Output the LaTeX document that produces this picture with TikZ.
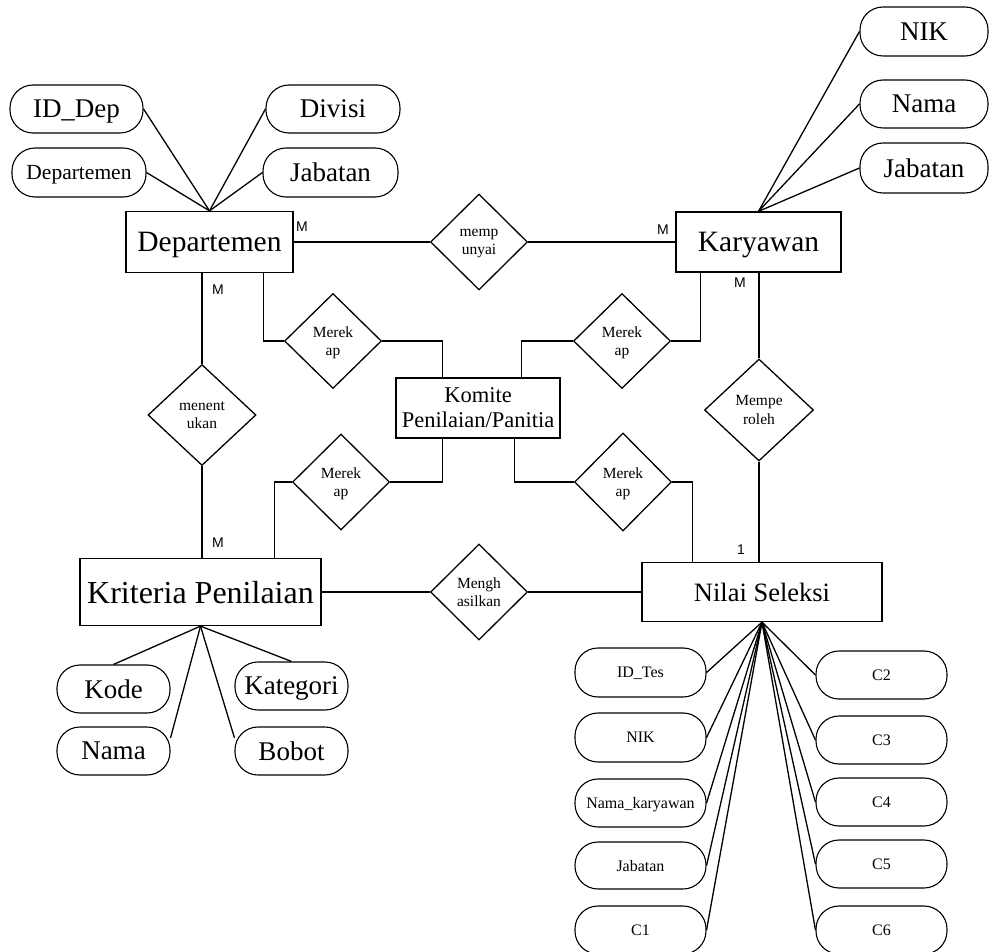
\documentclass[tikz,border=0pt]{standalone}
\usepackage{fontspec}
\setmainfont{Liberation Serif}
\newfontfamily\cardfont{Liberation Sans}
\usetikzlibrary{shapes.geometric, positioning, calc}
\tikzset{
  entity/.style = {rectangle, draw=black, line width=1.3pt, inner sep=0pt,
    align=center, text depth=0pt},
  attr/.style = {rectangle, rounded corners=23pt, draw=black, line width=1.1pt,
    inner sep=0pt, minimum width=133pt, minimum height=48pt, text depth=0pt,
    font=\fontsize{27}{30}\selectfont},
  attrSmall/.style = {attr, minimum width=131pt, font=\fontsize{16}{19}\selectfont},
  rel/.style = {diamond, aspect=1, draw=black, line width=1.3pt, inner sep=0pt,
    minimum width=97pt, minimum height=96pt, align=center, text depth=0pt,
    font=\fontsize{15.5}{18.5}\selectfont},
  ln/.style = {line width=1.3pt},
  card/.style = {inner sep=0pt, font=\cardfont\fontsize{14}{16}\selectfont},
}

\begin{document}
\begin{tikzpicture}[x=1pt, y=-1pt]
\useasboundingbox (0,0) rectangle (989,952);

\node[entity, minimum width=167pt, minimum height=61pt, font=\fontsize{29.5}{33}\selectfont] (dep) at (209.5,242) {Departemen};
\node[entity, minimum width=165pt, minimum height=60pt, font=\fontsize{29.5}{33}\selectfont] (kar) at (758.5,242) {Karyawan};
\node[entity, minimum width=164pt, minimum height=60pt, font=\fontsize{22.5}{25}\selectfont] (kom) at (478,408) {Komite\\Penilaian/Panitia};
\node[entity, minimum width=241pt, minimum height=67pt, font=\fontsize{32}{36}\selectfont] (kri) at (200.5,592) {Kriteria Penilaian};
\node[entity, minimum width=240pt, minimum height=59pt, font=\fontsize{26.5}{30}\selectfont] (nil) at (762,592) {Nilai Seleksi};

\node[attr] (dep1) at (76.5,109) {ID\_Dep};
\node[attr, minimum width=134pt] (dep2) at (333,109) {Divisi};
\node[attr, minimum width=134pt, minimum height=49pt, font=\fontsize{21.5}{24}\selectfont] (dep3) at (79,172.5) {Departemen};
\node[attr, minimum width=135pt, minimum height=49pt] (dep4) at (330.5,172.5) {Jabatan};

\node[attr, minimum width=128pt, minimum height=49pt] (kar1) at (924,31.5) {NIK};
\node[attr, minimum width=128pt] (kar2) at (924,104) {Nama};
\node[attr, minimum width=128pt, minimum height=50pt] (kar3) at (924,168) {Jabatan};

\node[attr, minimum width=113pt] (kri1) at (113.5,689) {Kode};
\node[attr, minimum width=113pt] (kri2) at (113.5,751) {Nama};
\node[attr, minimum width=113pt] (kri3) at (291.5,686) {Kategori};
\node[attr, minimum width=113pt] (kri4) at (291.5,751) {Bobot};

\node[attrSmall, minimum height=49pt] (nil1) at (640.5,672.5) {ID\_Tes};
\node[attrSmall, minimum height=49pt] (nil2) at (640.5,737.5) {NIK};
\node[attrSmall] (nil3) at (640.5,803) {Nama\_karyawan};
\node[attrSmall, minimum height=47pt] (nil4) at (640.5,865.5) {Jabatan};
\node[attrSmall] (nil5) at (640.5,930) {C1};
\node[attrSmall] (nil6) at (881.5,675) {C2};
\node[attrSmall] (nil7) at (881.5,740) {C3};
\node[attrSmall] (nil8) at (881.5,802) {C4};
\node[attrSmall] (nil9) at (881.5,864) {C5};
\node[attrSmall] (nil10) at (881.5,930) {C6};

\node[rel] (memp) at (479,242) {memp\\unyai};
\node[rel, minimum height=95pt] (mrk1) at (333,341) {Merek\\ap};
\node[rel, minimum height=95pt] (mrk2) at (622,341) {Merek\\ap};
\node[rel] (mrk3) at (341,482) {Merek\\ap};
\node[rel, minimum height=98pt] (mrk4) at (623,482) {Merek\\ap};
\node[rel, minimum width=108pt, minimum height=101pt] (ment) at (202,415) {menent\\ukan};
\node[rel] (meng) at (479,592) {Mengh\\asilkan};
\node[rel, minimum width=109pt, minimum height=102pt] (memo) at (759,410) {Mempe\\roleh};

\node[card] (c1) at (302,227) {M};
\node[card] (c2) at (218,290) {M};
\node[card] (c3) at (663,230) {M};
\node[card] (c4) at (740,283) {M};
\node[card] (c5) at (218,543) {M};
\node[card] (c6) at (741,550) {1};

\draw[ln] (dep.east) -- (memp.west);
\draw[ln] (memp.east) -- (kar.west);
\draw[ln] (ment.north |- dep.south) -- (ment.north);
\draw[ln] (ment.south) -- (ment.south |- kri.north);
\draw[ln] ([xshift=138pt]dep.south west) |- (mrk1.west);
\draw[ln] (mrk1.east) -| ([xshift=47pt]kom.north west);
\draw[ln] ([xshift=25pt]kar.south west) |- (mrk2.east);
\draw[ln] (mrk2.west) -| ([xshift=126pt]kom.north west);
\draw[ln] ([xshift=47pt]kom.south west) |- (mrk3.east);
\draw[ln] (mrk3.west) -| ([xshift=195pt]kri.north west);
\draw[ln] ([xshift=119pt]kom.south west) |- (mrk4.west);
\draw[ln] (mrk4.east) -| ([xshift=51pt]nil.north west);
\draw[ln] (memo.north |- kar.south) -- (memo.north);
\draw[ln] (memo.south) -- (memo.south |- nil.north);
\draw[ln] (kri.east) -- (meng.west);
\draw[ln] (meng.east) -- (nil.west);

\draw[ln] (dep1.east) -- (dep.north);
\draw[ln] (dep2.west) -- (dep.north);
\draw[ln] (dep3.east) -- (dep.north);
\draw[ln] (dep4.west) -- (dep.north);
\draw[ln] (kar1.west) -- (kar.north);
\draw[ln] (kar2.west) -- (kar.north);
\draw[ln] (kar3.west) -- (kar.north);
\draw[ln] (kri1.north) -- (kri.south);
\draw[ln] (kri2.13) -- (kri.south);
\draw[ln] (kri3.north) -- (kri.south);
\draw[ln] (kri4.167) -- (kri.south);
\draw[ln] (nil1.east) -- (nil.south);
\draw[ln] (nil2.east) -- (nil.south);
\draw[ln] (nil3.east) -- (nil.south);
\draw[ln] (nil4.east) -- (nil.south);
\draw[ln] (nil5.east) -- (nil.south);
\draw[ln] (nil6.west) -- (nil.south);
\draw[ln] (nil7.west) -- (nil.south);
\draw[ln] (nil8.west) -- (nil.south);
\draw[ln] (nil9.west) -- (nil.south);
\draw[ln] (nil10.west) -- (nil.south);

\end{tikzpicture}
\end{document}
